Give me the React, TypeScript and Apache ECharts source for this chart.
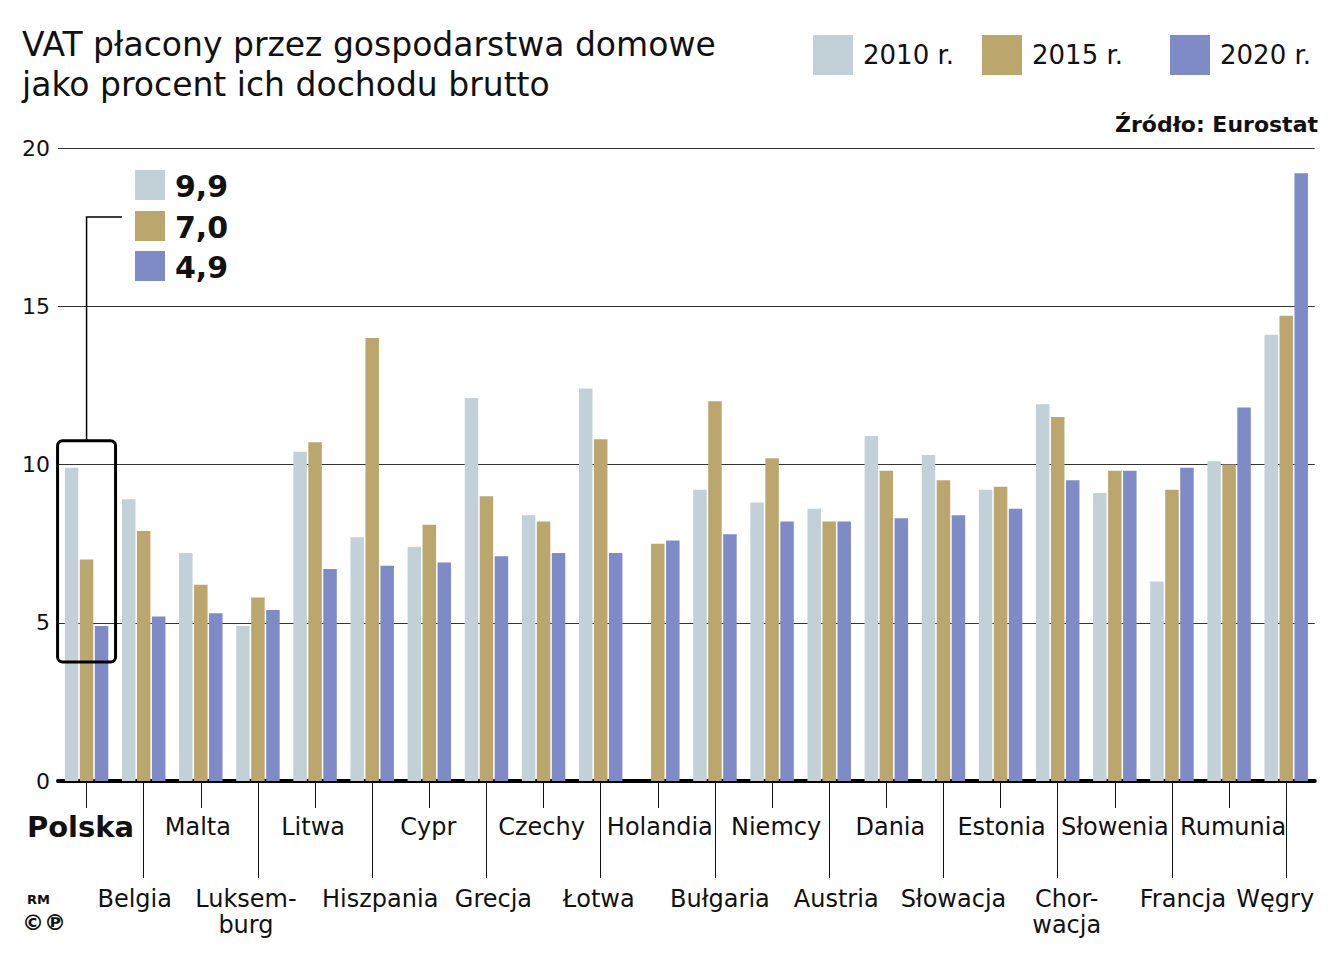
import React, { useEffect, useRef } from 'react';
import * as echarts from 'echarts';

// Countries, ordered by the 2020 value
const categories = [
  'Polska', 'Belgia', 'Malta', 'Luksemburg', 'Litwa', 'Hiszpania', 'Cypr', 'Grecja',
  'Czechy', 'Łotwa', 'Holandia', 'Bułgaria', 'Niemcy', 'Austria', 'Dania', 'Słowacja',
  'Estonia', 'Chorwacja', 'Słowenia', 'Francja', 'Rumunia', 'Węgry',
];

// Axis label text (hyphenated where the name is split over two lines)
const tickLabels = [
  'Polska', 'Belgia', 'Malta', 'Luksem-\nburg', 'Litwa', 'Hiszpania', 'Cypr', 'Grecja',
  'Czechy', 'Łotwa', 'Holandia', 'Bułgaria', 'Niemcy', 'Austria', 'Dania', 'Słowacja',
  'Estonia', 'Chor-\nwacja', 'Słowenia', 'Francja', 'Rumunia', 'Węgry',
];

const seriesNames = ['2010 r.', '2015 r.', '2020 r.'];

// VAT paid by households, % of gross income
const values2010 = [9.9, 8.9, 7.2, 4.9, 10.4, 7.7, 7.4, 12.1, 8.4, 12.4, null, 9.2, 8.8, 8.6, 10.9, 10.3, 9.2, 11.9, 9.1, 6.3, 10.1, 14.1];
const values2015 = [7.0, 7.9, 6.2, 5.8, 10.7, 14.0, 8.1, 9.0, 8.2, 10.8, 7.5, 12.0, 10.2, 8.2, 9.8, 9.5, 9.3, 11.5, 9.8, 9.2, 10.0, 14.7];
const values2020 = [4.9, 5.2, 5.3, 5.4, 6.7, 6.8, 6.9, 7.1, 7.2, 7.2, 7.6, 7.8, 8.2, 8.2, 8.3, 8.4, 8.6, 9.5, 9.8, 9.9, 11.8, 19.2];

const yMin = 0;
const yMax = 20;
const yStep = 5;

const colors = ['#c2d1d8', '#bba66d', '#7f8bc7'];
const FONT = "'DejaVu Sans', sans-serif";

// Horizontal nudge of each axis label (px) so neighbouring names don't collide
const labelShift = [-6, -9, -3, -12, -2, 8, -1, 7, -2, -2, 2, 5, 4, 7, 4, 10, 1, 9, 0, 11, 4, -11];

const fmtPl = (v: number) => v.toFixed(1).replace('.', ',');

export default function App() {
  const ref = useRef<HTMLDivElement>(null);

  useEffect(() => {
    const chart = echarts.init(ref.current!, null, { renderer: 'svg' });

    const rich: Record<string, any> = {};
    tickLabels.forEach((_, i) => {
      const d = labelShift[i];
      rich['s' + i] = {
        fontFamily: FONT,
        fontSize: i === 0 ? 29 : 24,
        fontWeight: i === 0 ? 'bold' : 'normal',
        color: '#111',
        lineHeight: 26,
        padding: [0, d < 0 ? -2 * d : 0, 0, d > 0 ? 2 * d : 0],
      };
    });
    const labelFormatter = (_v: string, idx: number) =>
      tickLabels[idx].split('\n').map((l) => `{s${idx}|${l}}`).join('\n');

    const seriesData = [values2010, values2015, values2020];

    const legendLefts = [813, 982, 1170];

    chart.setOption({
      animation: false,
      title: [
        {
          text: 'VAT płacony przez gospodarstwa domowe\njako procent ich dochodu brutto',
          left: 22,
          top: 24,
          padding: 0,
          textStyle: { fontFamily: FONT, fontSize: 33, fontWeight: 'normal', lineHeight: 40, color: '#111' },
        },
        {
          text: 'Źródło: Eurostat',
          right: 21,
          top: 113,
          padding: 0,
          textStyle: { fontFamily: FONT, fontSize: 22, fontWeight: 'bold', color: '#111' },
        },
      ],
      legend: seriesNames.map((name, i) => ({
        data: [name],
        left: legendLefts[i],
        top: 35,
        padding: 0,
        itemWidth: 40,
        itemHeight: 40,
        icon: 'rect',
        selectedMode: false,
        textStyle: { fontFamily: FONT, fontSize: 26, color: '#111', padding: [0, 0, 0, 5] },
      })),
      grid: { left: 58, right: 19, top: 148, bottom: 173, containLabel: false },
      xAxis: [
        {
          type: 'category',
          data: categories,
          position: 'bottom',
          axisLine: { show: true, lineStyle: { color: '#000', width: 4 } },
          axisTick: {
            show: true,
            alignWithLabel: true,
            length: 27,
            interval: (i: number) => i % 2 === 0,
            lineStyle: { color: '#111', width: 1 },
          },
          axisLabel: {
            interval: (i: number) => i % 2 === 0,
            showMinLabel: true,
            showMaxLabel: true,
            hideOverlap: false,
            margin: 33,
            formatter: labelFormatter,
            rich,
          },
        },
        {
          type: 'category',
          data: categories,
          position: 'bottom',
          axisLine: { show: false },
          axisTick: {
            show: true,
            alignWithLabel: true,
            length: 97,
            interval: (i: number) => i % 2 === 1,
            lineStyle: { color: '#111', width: 1 },
          },
          axisLabel: {
            interval: (i: number) => i % 2 === 1,
            showMinLabel: true,
            showMaxLabel: true,
            hideOverlap: false,
            margin: 105,
            formatter: labelFormatter,
            rich,
          },
        },
      ],
      yAxis: {
        type: 'value',
        min: yMin,
        max: yMax,
        interval: yStep,
        axisLine: { show: false },
        axisTick: { show: false },
        axisLabel: { fontFamily: FONT, fontSize: 22, color: '#111', margin: 8 },
        splitLine: { show: true, lineStyle: { color: '#333', width: 1 } },
      },
      series: seriesNames.map((name, i) => ({
        name,
        type: 'bar',
        xAxisIndex: 0,
        data: seriesData[i],
        barWidth: 13.5,
        barGap: '11%',
        itemStyle: { color: colors[i] },
      })),
    });

    // Highlight frame around the Polish bars, with a leader line to the value key
    const polska = [values2010[0], values2015[0], values2020[0]] as number[];
    const hi = Math.max(...polska);
    const lo = Math.min(...polska);
    const [cx, yHi] = chart.convertToPixel({ xAxisIndex: 0, yAxisIndex: 0 }, [categories[0], hi]) as number[];
    const [, yLo] = chart.convertToPixel({ xAxisIndex: 0, yAxisIndex: 0 }, [categories[0], lo]) as number[];
    const boxTop = yHi - 27;
    const boxBottom = yLo + 36;

    const keyTops = [170, 211, 251];

    chart.setOption({
      graphic: [
        {
          type: 'rect',
          shape: { x: cx - 29, y: boxTop, width: 58, height: boxBottom - boxTop, r: 5 },
          style: { fill: 'none', stroke: '#000', lineWidth: 3 },
          z: 100,
        },
        {
          type: 'polyline',
          shape: { points: [[cx, boxTop], [cx, 217], [122, 217]] },
          style: { fill: 'none', stroke: '#000', lineWidth: 1.5 },
          z: 100,
        },
        ...polska.flatMap((v, i) => [
          {
            type: 'rect',
            shape: { x: 135, y: keyTops[i], width: 30, height: 30 },
            style: { fill: colors[i] },
            z: 100,
          },
          {
            type: 'text',
            x: 175,
            y: keyTops[i] + 16,
            style: {
              text: fmtPl(v),
              font: `bold 30px ${FONT}`,
              fill: '#111',
              verticalAlign: 'middle',
            },
            z: 100,
          },
        ]),
        {
          type: 'text',
          x: 27,
          y: 893,
          style: { text: 'RM', font: `bold 13px ${FONT}`, fill: '#111' },
        },
        {
          type: 'text',
          x: 22,
          y: 911,
          style: { text: '©℗', font: `bold 22px ${FONT}`, fill: '#111' },
        },
      ],
    });

    return () => chart.dispose();
  }, []);

  return (
    <div
      ref={ref}
      style={{ position: 'fixed', left: 0, top: 0, width: 1339, height: 954, background: '#fff' }}
    />
  );
}
